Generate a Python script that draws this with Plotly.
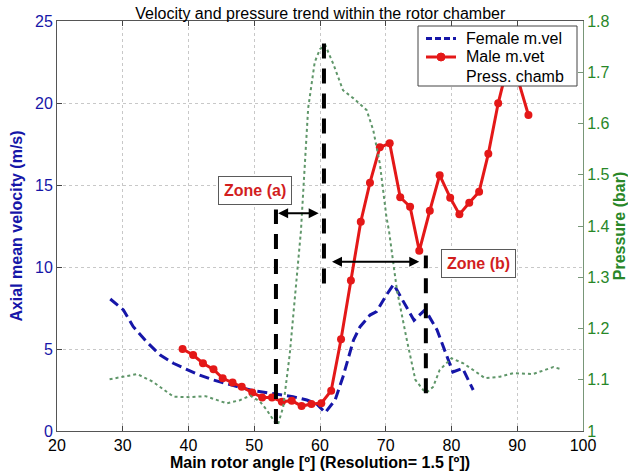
import plotly.graph_objects as go

# ---------------- data ----------------
male_x = [39.1, 40.7, 42.2, 43.8, 45.2, 46.7, 48.1, 49.7, 51.2, 52.7, 54.2, 55.7,
          57.2, 58.7, 60.2, 61.7, 63.2, 64.7, 66.2, 67.6, 69.1, 70.6, 72.2, 73.7,
          75.1, 76.7, 78.2, 79.8, 81.2, 82.7, 84.2, 85.6, 87.1, 88.6, 90.2, 91.7]
male_v = [5.0, 4.63, 4.13, 3.76, 3.21, 2.95, 2.70, 2.34, 2.05, 2.05, 1.79, 1.85,
          1.52, 1.65, 1.69, 2.46, 5.59, 9.17, 12.76, 15.14, 17.3, 17.54, 14.25, 13.68,
          10.99, 13.43, 15.6, 14.23, 13.21, 13.92, 14.59, 16.9, 19.98, 22.4, 21.3, 19.27]

female_x = [28.1, 30.1, 31.6, 33.6, 35.7, 37.7, 39.7, 41.7, 43.8, 45.8, 47.8, 49.9,
            51.9, 53.9, 55.9, 58.0, 59.5, 60.8, 62.3, 63.5, 65.1, 66.1, 67.6, 68.6,
            70.1, 71.2, 74.3, 76.0, 77.8, 80.2, 81.7, 83.3]
female_v = [8.05, 7.38, 6.36, 5.45, 4.63, 4.13, 3.76, 3.41, 3.11, 2.87, 2.66, 2.46,
            2.34, 2.21, 2.09, 1.89, 1.65, 1.12, 1.89, 3.31, 5.55, 6.36, 7.07, 7.28,
            8.29, 8.94, 6.75, 7.4, 6.16, 3.6, 3.82, 2.5]

press_x = [28.0, 32.2, 34.6, 37.7, 40.2, 42.6, 45.8, 47.8, 49.4, 50.9, 51.9, 53.2,
           53.6, 54.4, 55.4, 56.4, 57.1, 57.6, 58.2, 59.2, 60.0, 60.8, 62.0, 63.5,
           65.1, 67.1, 68.1, 69.1, 70.1, 70.5, 71.7, 73.2, 74.5, 75.7, 76.2, 77.2,
           78.2, 80.0, 81.8, 83.3, 85.1, 87.4, 89.4, 92.4, 95.5, 96.8]
press_p = [1.101, 1.111, 1.096, 1.067, 1.066, 1.068, 1.054, 1.060, 1.069, 1.057, 1.041, 1.016,
           1.012, 1.047, 1.150, 1.290, 1.390, 1.500, 1.630, 1.720, 1.745, 1.753, 1.717, 1.665,
           1.649, 1.626, 1.587, 1.522, 1.418, 1.390, 1.275, 1.178, 1.100, 1.080, 1.075, 1.086,
           1.119, 1.142, 1.132, 1.119, 1.103, 1.106, 1.113, 1.111, 1.125, 1.120]

# zone markers (angle, v_bottom, v_top)
zone_lines_x = [53.3, 60.6, 76.1]
zone_lines_v0 = [0.43, 9.0, 2.3]
zone_lines_v1 = [13.5, 24.2, 10.7]
arrow_a = (53.4, 59.8, 13.27)
arrow_b = (61.6, 75.1, 10.32)
zone_labels = ["Zone (a)", "Zone (b)"]
zone_label_pos = [(50.1, 14.68), (84.15, 10.2)]

legend_names = ["Female m.vel", "Male m.vet", "Press. chamb"]

title = "Velocity and pressure trend within the rotor chamber"
x_title = "Main rotor angle [º] (Resolution= 1.5 [º])"
y_title = "Axial mean velocity (m/s)"
y2_title = "Pressure (bar)"

BLUE = "rgb(22,22,168)"
RED = "rgb(228,24,24)"
GREEN_LINE = "rgb(95,150,105)"
GREEN_TXT = "rgb(40,135,40)"
FONT = "Liberation Sans, Arial, sans-serif"

# plot area in pixels (for legend placement helpers)
L, R, T, B = 57, 583, 21, 431
def px(xp):
    return (xp - L) / (R - L)
def py(yp):
    return (B - yp) / (B - T)

fig = go.Figure()
fig.add_trace(go.Scatter(x=press_x, y=press_p, yaxis="y2", mode="lines",
                         line=dict(color=GREEN_LINE, width=2, dash="dot"),
                         showlegend=False, name=legend_names[2]))
fig.add_trace(go.Scatter(x=female_x, y=female_v, mode="lines", name=legend_names[0],
                         line=dict(color=BLUE, width=3, dash="10px,5px"), showlegend=False))
fig.add_trace(go.Scatter(x=male_x, y=male_v, mode="lines+markers", name=legend_names[1],
                         line=dict(color=RED, width=3),
                         marker=dict(color=RED, size=8), showlegend=False))

for xv, v0, v1 in zip(zone_lines_x, zone_lines_v0, zone_lines_v1):
    fig.add_shape(type="line", xref="x", yref="y", x0=xv, x1=xv, y0=v0, y1=v1,
                  line=dict(color="black", width=4, dash="15px,10px"))

for (xa, xb, yv) in [arrow_a, arrow_b]:
    fig.add_annotation(x=xb, y=yv, ax=xa, ay=yv, xref="x", yref="y", axref="x", ayref="y",
                       text="", showarrow=True, arrowhead=2, startarrowhead=2,
                       arrowside="end+start", arrowwidth=2, arrowsize=1, arrowcolor="black")

for lab, (lx, ly) in zip(zone_labels, zone_label_pos):
    fig.add_annotation(x=lx, y=ly, xref="x", yref="y", text=lab, showarrow=False,
                       font=dict(family=FONT, size=16, color="rgb(210,30,30)", weight="bold"),
                       bgcolor="white", bordercolor="rgb(90,90,90)", borderwidth=1, borderpad=5)

# ---- legend box drawn by hand (matches the compact MATLAB legend) ----
fig.add_shape(type="rect", xref="paper", yref="paper",
              x0=px(418), x1=px(577), y0=py(86), y1=py(26),
              line=dict(color="#444", width=1), fillcolor="white", layer="above")
leg_y = [38.5, 57, 76]
fig.add_shape(type="line", xref="paper", yref="paper", x0=px(426), x1=px(456),
              y0=py(leg_y[0]), y1=py(leg_y[0]), line=dict(color=BLUE, width=3, dash="6px,3px"),
              layer="above")
fig.add_shape(type="line", xref="paper", yref="paper", x0=px(426), x1=px(456),
              y0=py(leg_y[1]), y1=py(leg_y[1]), line=dict(color=RED, width=3), layer="above")
fig.add_shape(type="circle", xref="paper", yref="paper", x0=px(437), x1=px(445),
              y0=py(leg_y[1] + 4), y1=py(leg_y[1] - 4), line=dict(color=RED, width=1),
              fillcolor=RED, layer="above")
for name, yy in zip(legend_names, leg_y):
    fig.add_annotation(x=px(464), y=py(yy), xref="paper", yref="paper", text=name,
                       showarrow=False, xanchor="left", yanchor="middle",
                       font=dict(family=FONT, size=16, color="black"))

fig.update_layout(
    width=628, height=476,
    margin=dict(l=L, r=628 - R, t=T, b=476 - B, autoexpand=False),
    paper_bgcolor="white", plot_bgcolor="white",
    font=dict(family=FONT, size=16, color="black"),
    showlegend=False,
    title=dict(text=title, x=0.51, xanchor="center", y=1 - 13 / 476, yanchor="middle",
               font=dict(family=FONT, size=16, color="black")),
    xaxis=dict(range=[20, 100], dtick=10, ticks="inside", ticklen=5, tickcolor="#444",
               showline=True, linecolor="#555", linewidth=1, mirror="ticks",
               showgrid=True, gridcolor="#c8c8c8", griddash="dot", gridwidth=1,
               zeroline=False, tickfont=dict(size=16, color="black"), automargin=False,
               title=dict(text=x_title, standoff=2,
                          font=dict(family=FONT, size=16, color="black", weight="bold"))),
    yaxis=dict(range=[0, 25], dtick=5, ticks="inside", ticklen=5, tickcolor="#444",
               showline=True, linecolor="#555", linewidth=1, automargin=False,
               showgrid=True, gridcolor="#c8c8c8", griddash="dot", gridwidth=1,
               zeroline=False, tickfont=dict(size=16, color=BLUE),
               title=dict(text=y_title, standoff=8,
                          font=dict(family=FONT, size=16, color=BLUE, weight="bold"))),
    yaxis2=dict(range=[1, 1.8], dtick=0.1, overlaying="y", side="right",
                ticks="inside", ticklen=5, tickcolor="rgb(120,150,120)", automargin=False,
                showline=True, linecolor="rgb(120,150,120)", linewidth=1,
                showgrid=False, zeroline=False, tickfont=dict(size=16, color=GREEN_TXT),
                title=dict(text=y2_title, standoff=6,
                           font=dict(family=FONT, size=16, color=GREEN_TXT, weight="bold"))),
)

fig.write_html("out.html")
